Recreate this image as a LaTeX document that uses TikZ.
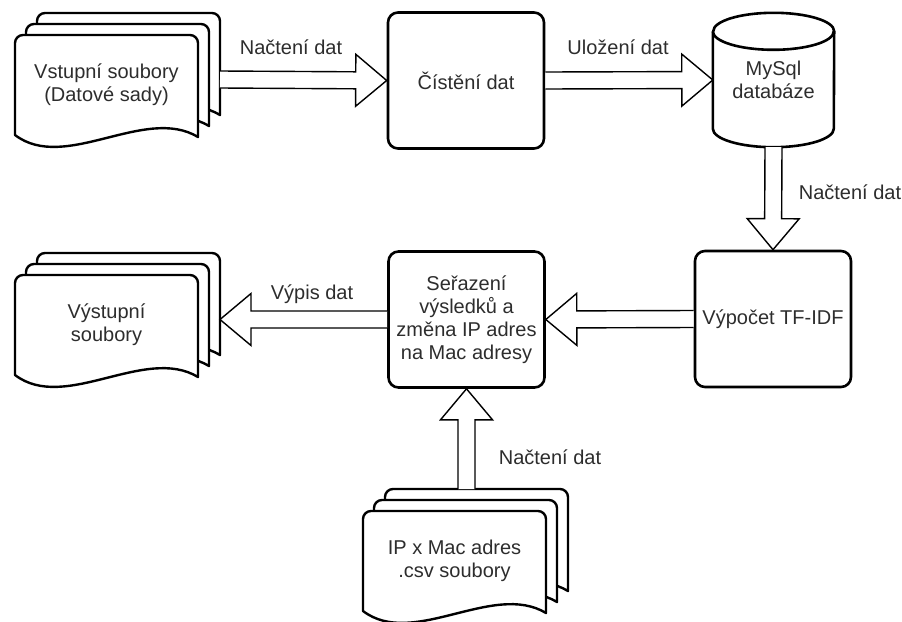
\documentclass[tikz,border=0pt]{standalone}
\usepackage{fontspec}
\setmainfont{Liberation Sans}
\definecolor{textGray}{RGB}{45,45,45}
\usepackage{tikz}
\usetikzlibrary{calc}

% one sheet of a stacked document, #1,#2 = its top left corner
\newcommand{\docpage}[2]{%
  \draw[pageline] (#1,#2+100) [rounded corners=8pt] -- (#1,#2) -- (#1+183,#2) [sharp corners] -- (#1+183,#2+102)
    .. controls (#1+130,#2+70) and (#1+50,#2+138) .. (#1,#2+100) -- cycle;}

% hollow block arrow from #1 to #2
\newcommand{\fatarrow}[2]{%
  \draw[fatline] let \p1=(#1), \p2=(#2), \n1={atan2(\y2-\y1,\x2-\x1)}, \n2={veclen(\x2-\x1,\y2-\y1)} in
    [shift={(\p1)}, rotate=\n1] (0pt,-8.5pt) -- (\n2-31pt,-8.5pt) -- (\n2-31pt,-26pt) -- (\n2-0pt,0pt)
    -- (\n2-31pt,26pt) -- (\n2-31pt,8.5pt) -- (0pt,8.5pt);}

\tikzset{
  pics/docstack/.style={code={
    \docpage{22}{0}
    \docpage{11}{11}
    \docpage{0}{22}
    \node[doclabel] (-text) at (91.5,72) {#1};
    \coordinate (-east) at (205,66.5);
    \coordinate (-north) at (103.5,0);
  }}
}

\begin{document}
\begin{tikzpicture}[x=1pt, y=-1pt,
  every node/.style={font=\fontsize{20}{23}\selectfont, text=textGray},
  pageline/.style={draw, line width=2.4pt, fill=white, line join=round},
  doclabel/.style={align=center},
  procbox/.style={draw, line width=2.6pt, rounded corners=10pt, minimum width=156pt, minimum height=136pt, align=center},
  fatline/.style={draw, line width=1.4pt, fill=white, line join=miter},
  arrowlabel/.style={inner sep=1pt}]
  \useasboundingbox (0,0) rectangle (902,621);

  % input and output files
  \pic (vstup) at (15,13) {docstack={Vstupní soubory\\(Datové sady)}};
  \pic (vystup) at (15,253) {docstack={Výstupní\\soubory}};
  \pic (csv) at (363,489) {docstack={IP x Mac adres\\ .csv soubory}};

  % processing steps
  \node[procbox] (cisteni) at (466,80.5) {Čístění dat};
  \node[procbox] (razeni) at (466.5,319.5) {Seřazení\\výsledků a\\změna IP adres\\na Mac adresy};
  \node[procbox, inner sep=0pt] (tfidf) at (773,319) {Výpočet TF-IDF};

  % database
  \node[minimum width=121pt, minimum height=134pt, align=center] (mysql) at (773.5,80) {MySql\\databáze};
  \draw[line width=2.6pt] ([yshift=-18.5pt]mysql.north west) -- ([yshift=18.5pt]mysql.south west)
    arc[start angle=180, end angle=360, x radius=60.5pt, y radius=18.5pt]
    -- ([yshift=-18.5pt]mysql.north east)
    arc[start angle=0, end angle=180, x radius=60.5pt, y radius=18.5pt];
  \draw[line width=2.6pt] ([yshift=-18.5pt]mysql.north west)
    arc[start angle=180, end angle=360, x radius=60.5pt, y radius=18.5pt];

  % data flow
  \fatarrow{vstup-east}{cisteni.west}
  \fatarrow{cisteni.east}{mysql.west}
  \fatarrow{mysql.south}{tfidf.north}
  \fatarrow{tfidf.west}{razeni.east}
  \fatarrow{razeni.west}{vystup-east}
  \fatarrow{csv-north}{razeni.south}

  \node[arrowlabel] (lbl1) at (291,47) {Načtení dat};
  \node[arrowlabel] (lbl2) at (618,47) {Uložení dat};
  \node[arrowlabel] (lbl3) at (850,192) {Načtení dat};
  \node[arrowlabel] (lbl4) at (312,294) {Výpis dat};
  \node[arrowlabel] (lbl5) at (550,457) {Načtení dat};
\end{tikzpicture}
\end{document}
